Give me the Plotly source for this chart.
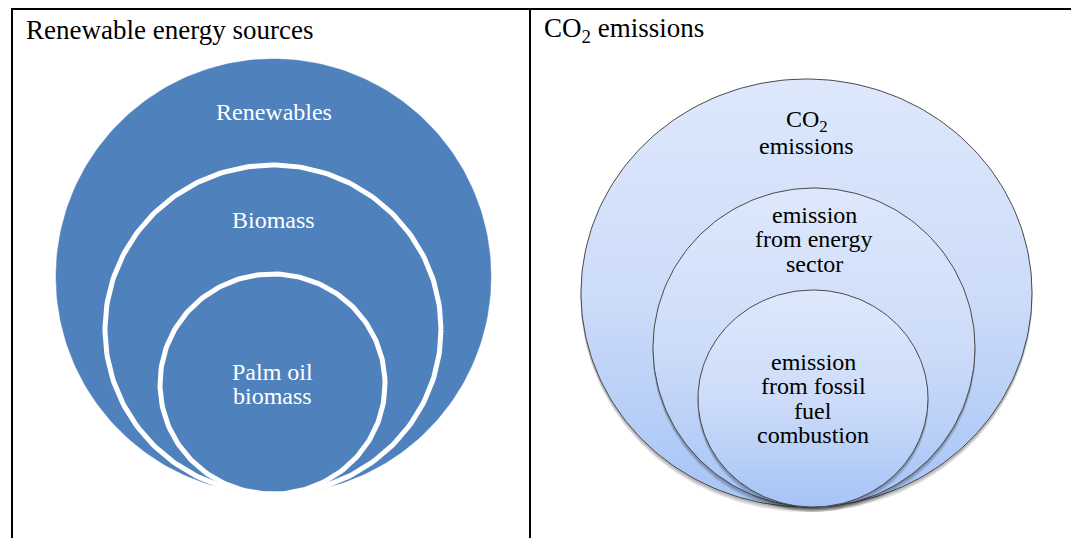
import numpy as np
import plotly.graph_objects as go

# ---- data ----
panel_titles = ["Renewable energy sources", "CO<sub>2</sub> emissions"]
left_labels = ["Renewables", "Biomass", "Palm oil<br>biomass"]
right_labels = ["CO<sub>2</sub><br>emissions", "emission<br>from energy<br>sector",
                "emission<br>from fossil<br>fuel<br>combustion"]

# ---- geometry (pixel coords, y downward) ----
W, H = 1079, 546
OFF = 8  # default page margin of the html body
# (left, right, top, bottom) of each nested shape
left_boxes = [(56, 491, 59, 494), (105, 441, 165, 494), (160, 385, 274, 494)]
right_boxes = [(581, 1032, 79, 507), (653, 975, 188, 507), (698, 928, 290, 507)]

BLUE = "#4f81bd"
FONT = "Liberation Serif"
LINE_H = 24.5


def ellipse(box, n=240):
    x0, x1, y0, y1 = box
    cx, cy = (x0 + x1) / 2, (y0 + y1) / 2
    rx, ry = (x1 - x0) / 2, (y1 - y0) / 2
    t = np.linspace(0, 2 * np.pi, n)
    return cx + rx * np.cos(t), cy + ry * np.sin(t)


fig = go.Figure()

# left panel: solid blue circles with white outlines
for i, box in enumerate(left_boxes):
    x, y = ellipse(box)
    fig.add_trace(go.Scatter(x=x, y=y, mode="lines", fill="toself",
                             fillcolor=BLUE,
                             line=dict(color="white" if i > 0 else BLUE, width=5 if i > 0 else 0.5),
                             hoverinfo="skip", showlegend=False))

# right panel: gradient ellipses with soft shadow and thin outline
for i, box in enumerate(right_boxes):
    for k, off in enumerate([5, 3.5, 2]):
        x0, x1, y0, y1 = box
        sx, sy = ellipse((x0 - 0.5, x1 + 0.5, y0 + off, y1 + off))
        fig.add_trace(go.Scatter(x=sx, y=sy, mode="lines", fill="toself",
                                 fillcolor="rgba(0,0,0,0.10)", line=dict(width=0),
                                 hoverinfo="skip", showlegend=False))
    x, y = ellipse(box)
    fig.add_trace(go.Scatter(x=x, y=y, mode="lines", fill="toself",
                             fillgradient=dict(type="vertical",
                                               colorscale=[[0, "#a6c4f6"], [0.5, "#cddcf9"], [1, "#dde8fb"]]),
                             line=dict(color="#4a4a4a", width=1),
                             hoverinfo="skip", showlegend=False))


def band_centers(boxes):
    tops = [b[2] for b in boxes]
    centers = []
    for i, b in enumerate(boxes):
        nxt = tops[i + 1] if i + 1 < len(boxes) else b[3]
        centers.append((b[2] + nxt) / 2)
    return centers


def add_labels(labels, boxes, color):
    for lab, box, cy in zip(labels, boxes, band_centers(boxes)):
        cx = (box[0] + box[1]) / 2
        lines = lab.split("<br>")
        n = len(lines)
        for j, ln in enumerate(lines):
            yy = cy + (j - (n - 1) / 2) * LINE_H
            fig.add_annotation(x=cx, y=yy, text=ln, showarrow=False,
                               xanchor="center", yanchor="middle",
                               font=dict(family=FONT, size=24, color=color))


add_labels(left_labels, left_boxes, "white")
add_labels(right_labels, right_boxes, "black")

# panel titles
for txt, x in zip(panel_titles, [24, 542]):
    fig.add_annotation(x=x, y=30, text=txt, showarrow=False, xanchor="left", yanchor="middle",
                       font=dict(family=FONT, size=27, color="black"))

# table borders
border = dict(color="black", width=2)
fig.add_shape(type="line", x0=11, x1=W, y0=9, y1=9, line=border)
for xv in [12, 530, 1076]:
    fig.add_shape(type="line", x0=xv, x1=xv, y0=9, y1=H, line=border)

fig.update_layout(
    width=W - OFF, height=H - 2 * OFF, margin=dict(l=0, r=0, t=0, b=0),
    paper_bgcolor="white", plot_bgcolor="white",
    xaxis=dict(range=[OFF, W], visible=False, fixedrange=True),
    yaxis=dict(range=[H - OFF, OFF], visible=False, fixedrange=True),
    showlegend=False,
)

fig.write_html("out.html")
